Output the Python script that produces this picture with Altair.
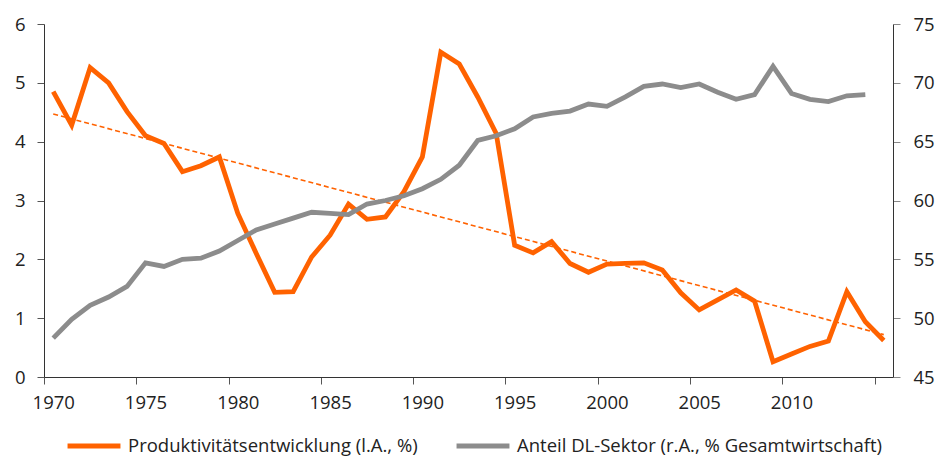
import altair as alt
import pandas as pd

years = list(range(1970, 2016))
produktivitaet = [4.85, 4.28, 5.26, 5.00, 4.51, 4.10, 3.97, 3.49, 3.59, 3.74,
                  2.78, 2.10, 1.44, 1.45, 2.04, 2.41, 2.94, 2.68, 2.72, 3.15,
                  3.74, 5.52, 5.32, 4.76, 4.14, 2.24, 2.11, 2.30, 1.93, 1.78,
                  1.92, 1.93, 1.94, 1.82, 1.43, 1.14, 1.31, 1.48, 1.29, 0.26,
                  0.39, 0.52, 0.61, 1.45, 0.94, 0.62]
dl_years = list(range(1970, 2015))
dl_anteil = [48.3, 49.9, 51.1, 51.8, 52.7, 54.7, 54.4, 55.0, 55.1, 55.7,
             56.6, 57.5, 58.0, 58.5, 59.0, 58.9, 58.8, 59.7, 60.0, 60.4,
             61.0, 61.8, 63.0, 65.1, 65.5, 66.1, 67.1, 67.4, 67.6, 68.2,
             68.0, 68.8, 69.7, 69.9, 69.6, 69.9, 69.2, 68.6, 69.0, 71.4,
             69.1, 68.6, 68.4, 68.9, 69.0]
tick_years = list(range(1970, 2016, 5))

name_p = "Produktivitätsentwicklung (l.A., %)"
name_d = "Anteil DL-Sektor (r.A., % Gesamtwirtschaft)"
ORANGE = "#FF6200"
GRAY = "#8C8C8C"
FONT = "Open Sans"
FS = 18.5

df_p = pd.DataFrame({"year": years, "value": produktivitaet, "series": name_p})
df_d = pd.DataFrame({"year": dl_years, "value": dl_anteil, "series": name_d})

step = 849 / 46.0

x = alt.X("year:Q",
          scale=alt.Scale(domain=[1969.5, 2015.5], nice=False, zero=False),
          axis=alt.Axis(values=tick_years, tickOffset=-step / 2, labelOffset=step / 2,
                        labelExpr="datum.value < 2014 ? format(datum.value, 'd') : ''",
                        title=None, grid=False, tickSize=7, labelPadding=9,
                        domainColor="#333333", tickColor="#555555"),
          title=None)

color = alt.Color("series:N",
                  scale=alt.Scale(domain=[name_p, name_d], range=[ORANGE, GRAY]),
                  legend=alt.Legend(orient="none", legendX=21, legendY=393, padding=0,
                                    direction="horizontal", title=None,
                                    symbolType="stroke", symbolSize=2800,
                                    symbolStrokeWidth=5, labelFontSize=FS,
                                    labelFont=FONT, labelColor="#222222",
                                    labelOffset=5, columnPadding=28,
                                    labelLimit=500))

y_left = alt.Y("value:Q", scale=alt.Scale(domain=[0, 6], nice=False),
               axis=alt.Axis(values=[0, 1, 2, 3, 4, 5, 6], orient="left", title=None,
                             format="d", grid=False, tickSize=7, labelPadding=12,
                             domainColor="#333333", tickColor="#555555"))
y_right = alt.Y("value:Q", scale=alt.Scale(domain=[45, 75], nice=False, zero=False),
                axis=alt.Axis(values=[45, 50, 55, 60, 65, 70, 75], orient="right", title=None,
                              format="d", grid=False, tickSize=7, labelPadding=13,
                              domainColor="#333333", tickColor="#888888"))

line_p = alt.Chart(df_p).mark_line(strokeWidth=4.8, strokeJoin="miter").encode(
    x=x, y=y_left, color=color)

trend = alt.Chart(df_p).transform_regression("year", "value").mark_line(
    strokeWidth=1.6, strokeDash=[5, 3], color=ORANGE).encode(
    x=alt.X("year:Q", scale=alt.Scale(domain=[1969.5, 2015.5], nice=False, zero=False)),
    y=alt.Y("value:Q", scale=alt.Scale(domain=[0, 6], nice=False)))

left = alt.layer(trend, line_p)

line_d = alt.Chart(df_d).mark_line(strokeWidth=4.8, strokeJoin="miter").encode(
    x=x, y=y_right, color=color)

chart = alt.layer(left, line_d).resolve_scale(y="independent").properties(
    width=849, height=353,
    autosize=alt.AutoSizeParams(type="none"),
    padding={"left": 36, "top": 16, "right": 45, "bottom": 81},
).configure_view(stroke=None).configure_axis(
    labelFont=FONT, labelFontSize=FS, labelColor="#222222"
)

chart.save("out.html", embed_options={"renderer": "svg", "actions": False})
